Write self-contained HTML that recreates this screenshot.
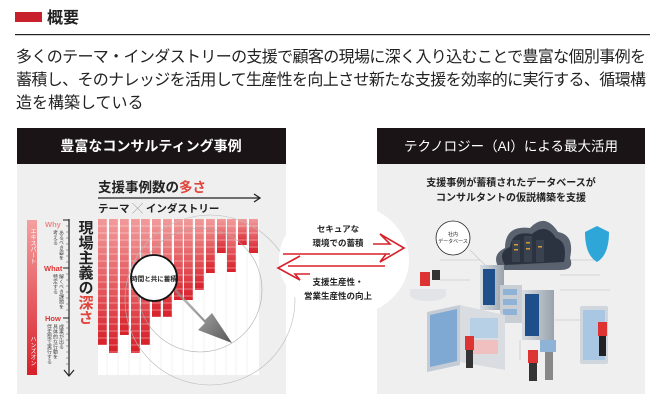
<!DOCTYPE html>
<html><head><meta charset="utf-8"><style>
html,body{margin:0;padding:0;background:#fff;width:666px;height:417px;overflow:hidden}
svg{display:block}
text{font-family:"Liberation Sans","Noto Sans CJK JP",sans-serif}
</style></head><body>
<svg width="666" height="417" viewBox="0 0 666 417" xmlns="http://www.w3.org/2000/svg">
<defs>
<linearGradient id="rg" x1="0" y1="0" x2="0" y2="1"><stop offset="0" stop-color="#f29a9a"/><stop offset="1" stop-color="#d8202a"/></linearGradient>
<linearGradient id="vb" x1="0" y1="0" x2="0" y2="1"><stop offset="0" stop-color="#f4a0a0"/><stop offset="1" stop-color="#d8202a"/></linearGradient>
<linearGradient id="ar" x1="0" y1="0" x2="1" y2="1"><stop offset="0" stop-color="#ccc" stop-opacity="0.3"/><stop offset="1" stop-color="#555"/></linearGradient>
<linearGradient id="sv" x1="0" y1="0" x2="1" y2="0"><stop offset="0" stop-color="#d8dde3"/><stop offset="1" stop-color="#9aa3ad"/></linearGradient>
</defs>
<rect x="15" y="12" width="27" height="10" fill="#c8202c"/>
<text x="47" y="23" font-size="16" font-weight="bold" fill="#222">概要</text>
<rect x="15" y="34" width="635" height="1.2" fill="#222"/>
<g font-size="16" fill="#222">
<text x="16" y="62" textLength="630" lengthAdjust="spacing">多くのテーマ・インダストリーの支援で顧客の現場に深く入り込むことで豊富な個別事例を</text>
<text x="16" y="85" textLength="630" lengthAdjust="spacing">蓄積し、そのナレッジを活用して生産性を向上させ新たな支援を効率的に実行する、循環構</text>
<text x="16" y="108">造を構築している</text>
</g>
<rect x="17" y="128" width="269" height="266" fill="#efefef"/>
<rect x="17" y="128" width="269" height="36" fill="#1b1416"/>
<text x="151" y="151" font-size="14" fill="#fff" text-anchor="middle" font-weight="bold">豊富なコンサルティング事例</text>
<text x="98" y="192" font-size="13.5" font-weight="bold" fill="#222">支援事例数の<tspan fill="#e0443c">多さ</tspan></text>
<line x1="98" y1="198" x2="259" y2="198" stroke="#222" stroke-width="1.2"/>
<path d="M254,194 L260,198 L254,202" fill="none" stroke="#222" stroke-width="1.3"/>
<text x="98" y="212" font-size="10.5" font-weight="bold" fill="#222">テーマ <tspan fill="#888" font-weight="normal">╳</tspan> インダストリー</text>
<rect x="98" y="219" width="161" height="156" fill="#fff"/>
<rect x="98" y="219" width="9" height="126" fill="url(#rg)"/>
<rect x="109" y="219" width="9" height="134" fill="url(#rg)"/>
<rect x="120" y="219" width="9" height="116" fill="url(#rg)"/>
<rect x="131" y="219" width="9" height="134" fill="url(#rg)"/>
<rect x="141" y="219" width="9" height="126" fill="url(#rg)"/>
<rect x="152" y="219" width="9" height="98" fill="url(#rg)"/>
<rect x="163" y="219" width="9" height="98" fill="url(#rg)"/>
<rect x="174" y="219" width="9" height="81" fill="url(#rg)"/>
<rect x="184" y="219" width="9" height="81" fill="url(#rg)"/>
<rect x="195" y="219" width="9" height="71" fill="url(#rg)"/>
<rect x="206" y="219" width="9" height="54" fill="url(#rg)"/>
<rect x="217" y="219" width="9" height="34" fill="url(#rg)"/>
<rect x="227" y="219" width="9" height="53" fill="url(#rg)"/>
<rect x="238" y="219" width="9" height="26" fill="url(#rg)"/>
<rect x="249" y="219" width="9" height="34" fill="url(#rg)"/>
<g stroke="#fff" stroke-width="0.6" opacity="0.8">
<path d="M98,226H259M98,233H259M98,240H259M98,247H259M98,254H259M98,261H259M98,268H259M98,275H259M98,282H259M98,289H259M98,296H259M98,303H259M98,310H259M98,317H259M98,324H259M98,331H259M98,338H259M98,345H259M98,352H259M98,359H259M98,366H259"/>
</g>
<g stroke="#e6e6e6" stroke-width="0.5">
<path d="M107,219V375M118,219V375M129,219V375M140,219V375M150,219V375M161,219V375M172,219V375M183,219V375M193,219V375M204,219V375M215,219V375M226,219V375M236,219V375M247,219V375"/>
</g>
<circle cx="200" cy="290" r="62" fill="none" stroke="#aaa" stroke-width="0.6"/>
<circle cx="210" cy="300" r="85" fill="none" stroke="#bbb" stroke-width="0.6"/>
<path d="M140,250 L205,320 L212,313 L232,343 L198,330 L205,323 L140,256 Z" fill="url(#ar)"/>
<circle cx="154" cy="278" r="23" fill="#fff" stroke="#111" stroke-width="1.8"/>
<text x="154" y="281" font-size="6.5" text-anchor="middle" font-weight="bold" fill="#222">時間と共に蓄積</text>
<rect x="27" y="220" width="10" height="155" fill="url(#vb)"/>
<text x="32" y="228" font-size="6" fill="#fff" writing-mode="tb">エキスパート</text>
<text x="32" y="336" font-size="6" fill="#fff" writing-mode="tb">ハンズオン</text>
<line x1="69" y1="219" x2="69" y2="375" stroke="#222" stroke-width="1.2"/>
<path d="M64,370 L69,376 L74,370" fill="none" stroke="#222" stroke-width="1.2"/>
<g stroke="#555" stroke-width="0.5"><path d="M66,226H69M66,232H69M66,238H69M66,244H69M66,250H69M66,256H69M66,262H69M66,274H69M66,280H69M66,286H69M66,292H69M66,298H69M66,304H69M66,310H69M66,322H69M66,328H69M66,334H69M66,340H69M66,346H69M66,352H69M66,358H69M66,364H69"/></g>
<path d="M63,220H69M63,268H69M63,318H69" stroke="#222" stroke-width="1"/>
<text x="45" y="227" font-size="7.5" fill="#e88" font-weight="bold">Why</text>
<text x="44" y="271" font-size="7.5" fill="#d33" font-weight="bold">What</text>
<text x="45" y="321" font-size="7.5" fill="#d33" font-weight="bold">How</text>
<g font-size="5" fill="#444" writing-mode="tb">
<text x="61" y="230">あるべき姿を</text><text x="55" y="230">考える</text>
<text x="61" y="274">解くべき課題を</text><text x="55" y="274">特定する</text>
<text x="61" y="324">成果が出る</text><text x="55" y="324">具体的な行動を</text><text x="49" y="324">伴走型で実行する</text>
</g>
<text x="85" y="220" font-size="15" font-weight="bold" fill="#222" writing-mode="tb">現場主義の<tspan fill="#e0443c">深さ</tspan></text>
<rect x="377" y="128" width="268" height="266" fill="#efefef"/>
<rect x="377" y="128" width="268" height="36" fill="#1b1416"/>
<text x="511" y="151" font-size="13.5" fill="#fff" text-anchor="middle">テクノロジー（AI）による最大活用</text>
<text x="511" y="186" font-size="10" font-weight="bold" fill="#222" text-anchor="middle">支援事例が蓄積されたデータベースが</text>
<text x="511" y="201" font-size="10" font-weight="bold" fill="#222" text-anchor="middle">コンサルタントの仮説構築を支援</text>
<g stroke="#c8ccd2" stroke-width="0.8" fill="none">
<path d="M440,260 H480 M440,280 H470 M555,260 H600 M560,290 H610 M450,340 H490 M555,320 H590 M520,340 V360 M470,250 L490,270 M560,275 L600,275"/>
</g>
<path d="M500,270 Q490,255 505,248 Q505,225 530,228 Q545,212 558,232 Q575,235 570,258 Q575,270 560,270 Z" fill="#5a6270"/>
<path d="M505,265 Q497,252 510,247 Q512,230 532,234 Q546,222 556,238 Q568,242 564,262 Z" fill="#2c3340"/>
<rect x="512" y="240" width="8" height="22" fill="#3a4250"/><rect x="524" y="236" width="8" height="26" fill="#3a4250"/><rect x="536" y="240" width="8" height="22" fill="#3a4250"/>
<g fill="#d89a3a"><rect x="514" y="244" width="4" height="1.5"/><rect x="514" y="249" width="4" height="1.5"/><rect x="526" y="242" width="4" height="1.5"/><rect x="526" y="248" width="4" height="1.5"/><rect x="538" y="246" width="4" height="1.5"/></g>
<path d="M585,232 L597,226 L609,232 Q609,255 597,262 Q585,255 585,232 Z" fill="#2fa6d8"/>
<circle cx="453" cy="238" r="17" fill="#fff" stroke="#222" stroke-width="0.8"/>
<text x="453" y="236" font-size="5" text-anchor="middle" fill="#222">社内</text>
<text x="453" y="243" font-size="5" text-anchor="middle" fill="#222">データベース</text>
<rect x="480" y="265" width="24" height="45" fill="url(#sv)"/>
<rect x="483" y="269" width="12" height="36" fill="#1e4f8a"/>
<rect x="500" y="285" width="22" height="38" fill="#c9ced4"/>
<rect x="503" y="289" width="14" height="6" fill="#8fb3d6"/><rect x="503" y="299" width="14" height="6" fill="#8fb3d6"/><rect x="503" y="309" width="14" height="6" fill="#8fb3d6"/>
<rect x="522" y="290" width="32" height="50" fill="url(#sv)"/>
<rect x="525" y="294" width="14" height="42" fill="#1e4f8a"/>
<ellipse cx="428" cy="295" rx="18" ry="6" fill="#e2e4e7"/>
<rect x="410" y="289" width="36" height="7" fill="#e2e4e7"/>
<rect x="420" y="272" width="10" height="14" fill="#d33"/><rect x="432" y="270" width="8" height="10" fill="#333"/>
<path d="M427,312 L460,305 L460,365 L427,372 Z" fill="#c5ccd5"/>
<path d="M430,315 L457,309 L457,361 L430,367 Z" fill="#7fa9d2"/>
<path d="M460,305 L505,315 L505,370 L460,362 Z" fill="#d9dde2"/>
<rect x="470" y="318" width="28" height="20" fill="#b8d0e6"/>
<rect x="470" y="340" width="28" height="14" fill="#f0c0c0"/>
<rect x="465" y="336" width="9" height="14" fill="#d33"/><rect x="466" y="350" width="7" height="18" fill="#333"/>
<rect x="580" y="306" width="28" height="58" rx="2" fill="#d0d6dd"/><rect x="583" y="310" width="22" height="50" fill="#a9c6e2"/>
<rect x="598" y="322" width="9" height="14" fill="#d33"/><rect x="599" y="336" width="7" height="20" fill="#222"/>
<rect x="540" y="340" width="16" height="12" fill="#8fb3d6"/><rect x="545" y="352" width="8" height="28" fill="#888"/>
<rect x="528" y="350" width="10" height="13" fill="#d33"/><rect x="529" y="363" width="8" height="18" fill="#333"/>
<ellipse cx="344" cy="260" rx="65" ry="57" fill="#fff"/>
<text x="338" y="232" font-size="8.5" font-weight="bold" fill="#222" text-anchor="middle">セキュアな</text>
<text x="338" y="246" font-size="8.5" font-weight="bold" fill="#222" text-anchor="middle">環境での蓄積</text>
<path d="M283,254 H390 M373,244 L390,244 L380,234 L404,248 L380,262 L386,254" fill="none" stroke="#d8202a" stroke-width="1.6"/>
<path d="M385,266 H288 M300,256 L278,268 L300,280 L295,274 L310,274" fill="none" stroke="#d8202a" stroke-width="1.6"/>
<text x="338" y="285" font-size="8.5" font-weight="bold" fill="#222" text-anchor="middle">支援生産性・</text>
<text x="338" y="299" font-size="8.5" font-weight="bold" fill="#222" text-anchor="middle">営業生産性の向上</text>
</svg>
</body></html>
